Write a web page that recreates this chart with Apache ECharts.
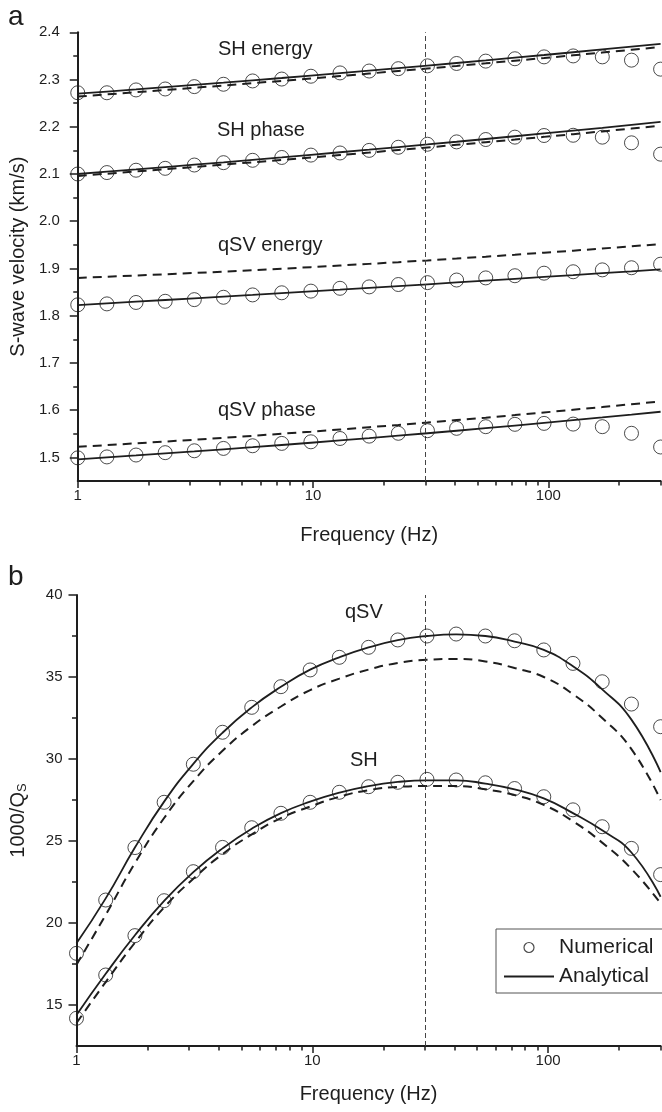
<!DOCTYPE html>
<html>
<head>
<meta charset="utf-8">
<script src="https://cdn.jsdelivr.net/npm/echarts@6/dist/echarts.min.js"></script>
<style>
  html, body { margin: 0; padding: 0; background: #fff; }
  #chart { width: 662px; height: 1112px; }
</style>
</head>
<body>
<div id="chart"></div>
<script>
// frequencies (Hz), log-spaced 1..300
const freqs = [1, 1.33, 1.769, 2.353, 3.129, 4.162, 5.535, 7.362, 9.792, 13.02, 17.32,
  23.04, 30.64, 40.75, 54.2, 72.09, 95.88, 127.5, 169.6, 225.6, 300];

// panel a: velocities (km/s)
const shEnergyNum = [2.272, 2.272, 2.278, 2.280, 2.285, 2.290, 2.297, 2.301, 2.307, 2.314, 2.318,
  2.323, 2.329, 2.334, 2.339, 2.344, 2.348, 2.350, 2.348, 2.341, 2.322];
const shEnergyAna = [2.270, 2.2745, 2.2791, 2.2838, 2.2885, 2.2933, 2.2982, 2.3032, 2.3083, 2.3135, 2.3187,
  2.3241, 2.3295, 2.3350, 2.3405, 2.3462, 2.3519, 2.3578, 2.3637, 2.3697, 2.3757];
const shEnergyAlt = [2.264, 2.2685, 2.2731, 2.2778, 2.2825, 2.2873, 2.2922, 2.2972, 2.3023, 2.3075, 2.3127,
  2.3180, 2.3234, 2.3288, 2.3343, 2.3399, 2.3455, 2.3513, 2.3571, 2.3630, 2.3690];

const shPhaseNum = [2.100, 2.103, 2.108, 2.112, 2.119, 2.124, 2.129, 2.135, 2.140, 2.1445, 2.150,
  2.1566, 2.163, 2.168, 2.173, 2.178, 2.1815, 2.182, 2.178, 2.166, 2.142];
const shPhaseAna = [2.1000, 2.1048, 2.1097, 2.1147, 2.1197, 2.1248, 2.1300, 2.1352, 2.1406, 2.1460, 2.1514,
  2.1570, 2.1626, 2.1683, 2.1741, 2.1799, 2.1858, 2.1918, 2.1978, 2.2040, 2.2102];
const shPhaseAlt = [2.0960, 2.1006, 2.1053, 2.1101, 2.1149, 2.1198, 2.1248, 2.1298, 2.1350, 2.1402, 2.1454,
  2.1508, 2.1562, 2.1617, 2.1673, 2.1729, 2.1786, 2.1844, 2.1902, 2.1962, 2.2022];

const qsvEnergyNum = [1.823, 1.825, 1.828, 1.8305, 1.834, 1.839, 1.844, 1.8485, 1.852, 1.858, 1.861,
  1.866, 1.870, 1.8755, 1.880, 1.8846, 1.890, 1.893, 1.897, 1.9015, 1.909];
const qsvEnergyAna = [1.8225, 1.8260, 1.8296, 1.8332, 1.8368, 1.8404, 1.8440, 1.8478, 1.8515, 1.8552, 1.8590,
  1.8627, 1.8665, 1.8704, 1.8742, 1.8781, 1.8821, 1.8860, 1.8900, 1.8939, 1.8979];
const qsvEnergyAlt = [1.8800, 1.8824, 1.8850, 1.8876, 1.8904, 1.8933, 1.8963, 1.8995, 1.9028, 1.9062, 1.9097,
  1.9133, 1.9171, 1.9210, 1.9250, 1.9291, 1.9334, 1.9377, 1.9422, 1.9469, 1.9516];

const qsvPhaseNum = [1.499, 1.501, 1.505, 1.510, 1.514, 1.519, 1.5246, 1.5296, 1.533, 1.540, 1.545,
  1.551, 1.5565, 1.5615, 1.565, 1.570, 1.572, 1.5705, 1.565, 1.551, 1.522];
const qsvPhaseAna = [1.4960, 1.5000, 1.5041, 1.5083, 1.5126, 1.5171, 1.5216, 1.5262, 1.5310, 1.5359, 1.5408,
  1.5459, 1.5511, 1.5564, 1.5618, 1.5673, 1.5730, 1.5787, 1.5845, 1.5905, 1.5966];
const qsvPhaseAlt = [1.5225, 1.5260, 1.5297, 1.5335, 1.5374, 1.5415, 1.5457, 1.5501, 1.5545, 1.5591, 1.5639,
  1.5687, 1.5737, 1.5789, 1.5841, 1.5895, 1.5951, 1.6008, 1.6065, 1.6125, 1.6186];

// panel b: attenuation 1000/Qs
const qsvQNum = [18.15, 21.4, 24.6, 27.36, 29.68, 31.63, 33.15, 34.41, 35.43, 36.2, 36.81,
  37.26, 37.5, 37.62, 37.5, 37.21, 36.65, 35.83, 34.71, 33.35, 31.97];
const qsvQAna = [18.76, 21.5, 24.6, 27.4, 29.7, 31.6, 33.15, 34.4, 35.45, 36.2, 36.8,
  37.25, 37.5, 37.6, 37.5, 37.15, 36.65, 35.65, 34.25, 32.4, 29.2];
const qsvQAlt = [17.46, 20.5, 23.65, 26.4, 28.65, 30.5, 32.0, 33.2, 34.2, 34.9, 35.45,
  35.85, 36.05, 36.1, 35.95, 35.55, 35.0, 33.95, 32.5, 30.6, 27.5];

const shQNum = [14.19, 16.83, 19.23, 21.36, 23.13, 24.61, 25.81, 26.69, 27.36, 27.97, 28.31,
  28.58, 28.76, 28.72, 28.55, 28.2, 27.7, 26.9, 25.87, 24.55, 22.95];
const shQAna = [14.39, 16.9, 19.25, 21.35, 23.1, 24.55, 25.75, 26.7, 27.4, 27.95, 28.35,
  28.6, 28.7, 28.7, 28.5, 28.15, 27.6, 26.7, 25.65, 24.3, 21.6];
const shQAlt = [13.9, 16.4, 18.8, 20.95, 22.7, 24.2, 25.4, 26.4, 27.1, 27.7, 28.1,
  28.3, 28.35, 28.35, 28.15, 27.8, 27.2, 26.2, 24.9, 23.3, 21.2];

// ticks
const xMajorTicks = [1, 10, 100];
const xMinorTicks = [2, 3, 4, 5, 6, 7, 8, 9, 20, 30, 40, 50, 60, 70, 80, 90, 200, 300];
const velTicks = [1.5, 1.6, 1.7, 1.8, 1.9, 2.0, 2.1, 2.2, 2.3, 2.4];
const velMinorTicks = [1.55, 1.65, 1.75, 1.85, 1.95, 2.05, 2.15, 2.25, 2.35];
const qTicks = [15, 20, 25, 30, 35, 40];
const qMinorTicks = [17.5, 22.5, 27.5, 32.5, 37.5];
const refFreq = 30;

const ink = '#1e1e1e';
const font = 'Liberation Sans, Arial, Helvetica, sans-serif';

const pairs = arr => freqs.map((f, i) => [f, arr[i]]);

function mainX(g, gap) {
  return {
    type: 'log', gridIndex: g, position: 'bottom', min: 1, max: 300,
    name: 'Frequency (Hz)', nameLocation: 'middle', nameGap: gap,
    nameTextStyle: { fontSize: 20, color: ink, fontFamily: font },
    axisLine: { lineStyle: { color: ink, width: 2 } },
    axisTick: { customValues: xMajorTicks, length: 7, lineStyle: { color: ink, width: 1.5 } },
    axisLabel: { customValues: xMajorTicks, fontSize: 15, color: ink, fontFamily: font, margin: 7 },
    splitLine: { show: false }
  };
}
function minorX(g) {
  return {
    type: 'log', gridIndex: g, position: 'bottom', min: 1, max: 300,
    axisLine: { show: false }, axisLabel: { show: false },
    axisTick: { customValues: xMinorTicks, length: 4.5, lineStyle: { color: ink, width: 1.5 } },
    splitLine: { show: false }
  };
}
function mainY(g, min, max, ticks, name, fmt, margin) {
  return {
    type: 'value', gridIndex: g, position: 'left', min: min, max: max,
    name: name, nameLocation: 'middle', nameGap: 48, nameRotate: 90,
    nameTextStyle: {
      fontSize: 20, color: ink, fontFamily: font,
      rich: {
        n: { fontSize: 20, color: ink, fontFamily: font },
        s: { fontSize: 13, color: ink, fontFamily: font, verticalAlign: 'bottom', padding: [8, 0, 0, 0] }
      }
    },
    axisLine: { show: true, onZero: false, lineStyle: { color: ink, width: 2 } },
    axisTick: { show: true, customValues: ticks, length: 8, lineStyle: { color: ink, width: 1.5 } },
    axisLabel: { customValues: ticks, fontSize: 15, color: ink, fontFamily: font, margin: margin, formatter: fmt },
    splitLine: { show: false }
  };
}
function minorY(g, min, max, ticks) {
  return {
    type: 'value', gridIndex: g, position: 'left', min: min, max: max,
    axisLine: { show: false }, axisLabel: { show: false },
    axisTick: { show: true, customValues: ticks, length: 4.5, lineStyle: { color: ink, width: 1.5 } },
    splitLine: { show: false }
  };
}

function numSeries(arr, xi) {
  return {
    name: 'Numerical', type: 'scatter', xAxisIndex: xi, yAxisIndex: xi,
    data: pairs(arr), symbol: 'circle', symbolSize: 14,
    itemStyle: { color: 'transparent', borderColor: ink, borderWidth: 1 },
    z: 5
  };
}
function anaSeries(arr, xi, smooth) {
  return {
    name: 'Analytical', type: 'line', xAxisIndex: xi, yAxisIndex: xi,
    data: pairs(arr), symbol: 'none', smooth: smooth,
    itemStyle: { color: ink },
    lineStyle: { color: ink, width: 1.8 }, z: 4
  };
}
function altSeries(arr, xi, smooth) {
  return {
    name: 'Approx', type: 'line', xAxisIndex: xi, yAxisIndex: xi,
    data: pairs(arr), symbol: 'none', smooth: smooth,
    itemStyle: { color: ink },
    lineStyle: { color: ink, width: 2, type: [9, 6] }, z: 3
  };
}
const refLine = {
  symbol: 'none', silent: true, label: { show: false },
  lineStyle: { color: '#444', width: 1, type: [5, 3] },
  data: [{ xAxis: refFreq }]
};

const chart = echarts.init(document.getElementById('chart'), null, { renderer: 'canvas' });

const shEnergyLine = anaSeries(shEnergyAna, 0, false);
shEnergyLine.markLine = refLine;
const qsvQLine = anaSeries(qsvQAna, 2, 0.5);
qsvQLine.markLine = refLine;

const label = (text, x, y, size) => ({
  type: 'text', x: x, y: y, silent: true,
  style: { text: text, font: (size || 20) + 'px ' + font, fill: ink, verticalAlign: 'middle' }
});

chart.setOption({
  animation: false,
  backgroundColor: '#fff',
  textStyle: { fontFamily: font },
  grid: [
    { left: 76, right: 1.4, top: 32.3, height: 448.7 },
    { left: 76, right: 1.4, top: 595, height: 451 }
  ],
  xAxis: [mainX(0, 44), minorX(0), mainX(1, 38), minorX(1)],
  yAxis: [
    mainY(0, 1.45, 2.4, velTicks, 'S-wave velocity (km/s)', v => v.toFixed(1), 18),
    minorY(0, 1.45, 2.4, velMinorTicks),
    mainY(1, 12.5, 40, qTicks, '{n|1000/Q}{s|S}', v => String(v), 14),
    minorY(1, 12.5, 40, qMinorTicks)
  ],
  legend: {
    orient: 'vertical', left: 496, top: 929,
    itemWidth: 50, itemHeight: 10, itemGap: 8,
    padding: [8, 30, 6, 7],
    borderColor: '#555', borderWidth: 1, backgroundColor: '#fff',
    textStyle: { fontSize: 21, color: ink, fontFamily: font },
    data: [
      { name: 'Numerical', icon: 'circle', itemStyle: { color: 'transparent', borderColor: ink, borderWidth: 1.2 } },
      { name: 'Analytical', itemStyle: { color: 'transparent', borderColor: 'transparent', borderWidth: 0 } }
    ]
  },
  graphic: [
    label('a', 8, 17, 28),
    label('b', 8, 577, 28),
    label('SH energy', 218, 49),
    label('SH phase', 217, 130),
    label('qSV energy', 218, 245),
    label('qSV phase', 218, 410),
    label('qSV', 345, 612),
    label('SH', 350, 760)
  ],
  series: [
    altSeries(shEnergyAlt, 0, false), shEnergyLine, numSeries(shEnergyNum, 0),
    altSeries(shPhaseAlt, 0, false), anaSeries(shPhaseAna, 0, false), numSeries(shPhaseNum, 0),
    altSeries(qsvEnergyAlt, 0, false), anaSeries(qsvEnergyAna, 0, false), numSeries(qsvEnergyNum, 0),
    altSeries(qsvPhaseAlt, 0, false), anaSeries(qsvPhaseAna, 0, false), numSeries(qsvPhaseNum, 0),
    altSeries(qsvQAlt, 2, 0.5), qsvQLine, numSeries(qsvQNum, 2),
    altSeries(shQAlt, 2, 0.5), anaSeries(shQAna, 2, 0.5), numSeries(shQNum, 2)
  ]
});
</script>
</body>
</html>
